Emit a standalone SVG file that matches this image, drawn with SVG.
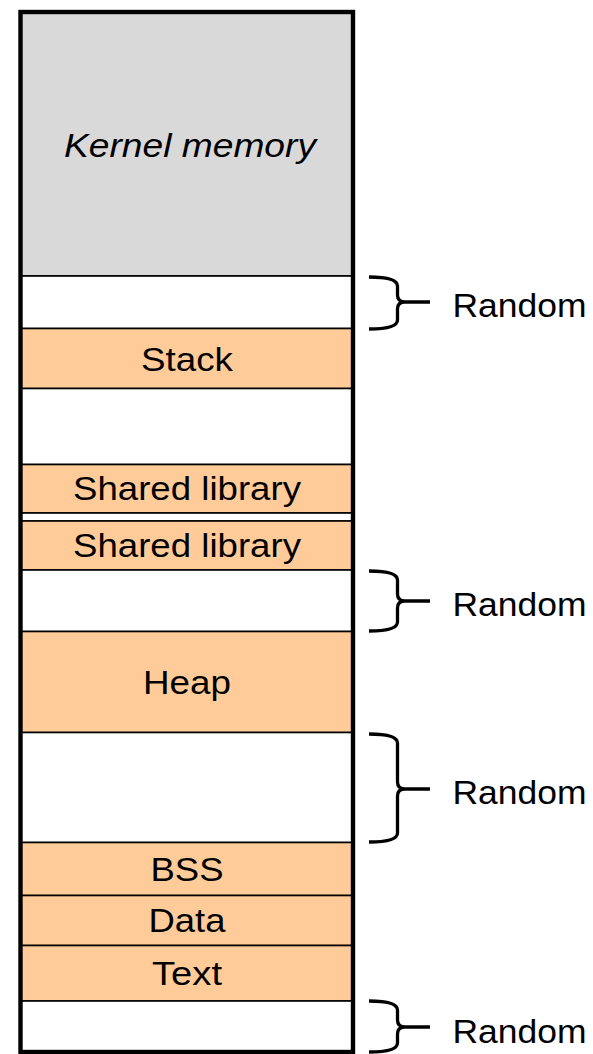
<svg xmlns="http://www.w3.org/2000/svg" width="593" height="1054" viewBox="0 0 593 1054">
<style>
.seg{stroke:#000;stroke-width:1.6}
.k{fill:#d9d9d9}
.o{fill:#ffcc99}
.w{fill:#ffffff}
.t{font-family:"Liberation Sans",Arial,sans-serif;font-size:33px;fill:#000;text-anchor:middle}
.r{font-family:"Liberation Sans",Arial,sans-serif;font-size:34px;fill:#000}
.br{fill:none;stroke:#000;stroke-width:3.3}
</style>
<rect width="593" height="1054" fill="#fff"/>
<g id="kernel"><rect class="seg k" x="21" y="12" width="331" height="264"/><text class="t" x="190" y="157" font-style="italic" textLength="252" lengthAdjust="spacingAndGlyphs">Kernel memory</text></g>
<g id="random1"><rect class="seg w" x="21" y="276" width="331" height="52.5"/></g>
<g id="stack"><rect class="seg o" x="21" y="328.5" width="331" height="60"/><text class="t" x="187" y="371" textLength="92" lengthAdjust="spacingAndGlyphs">Stack</text></g>
<g id="gap1"><rect class="seg w" x="21" y="388.5" width="331" height="76"/></g>
<g id="shlib1"><rect class="seg o" x="21" y="464.5" width="331" height="48.5"/><text class="t" x="187" y="500" textLength="228" lengthAdjust="spacingAndGlyphs">Shared library</text></g>
<g id="gap2"><rect class="seg w" x="21" y="513" width="331" height="8"/></g>
<g id="shlib2"><rect class="seg o" x="21" y="521" width="331" height="49"/><text class="t" x="187" y="557" textLength="228" lengthAdjust="spacingAndGlyphs">Shared library</text></g>
<g id="random2"><rect class="seg w" x="21" y="570" width="331" height="61.5"/></g>
<g id="heap"><rect class="seg o" x="21" y="631.5" width="331" height="101"/><text class="t" x="187" y="694" textLength="88" lengthAdjust="spacingAndGlyphs">Heap</text></g>
<g id="random3"><rect class="seg w" x="21" y="732.5" width="331" height="110"/></g>
<g id="bss"><rect class="seg o" x="21" y="842.5" width="331" height="53"/><text class="t" x="187" y="881" textLength="73" lengthAdjust="spacingAndGlyphs">BSS</text></g>
<g id="data"><rect class="seg o" x="21" y="895.5" width="331" height="50"/><text class="t" x="187" y="932" textLength="77" lengthAdjust="spacingAndGlyphs">Data</text></g>
<g id="text"><rect class="seg o" x="21" y="945.5" width="331" height="55.5"/><text class="t" x="187" y="985" textLength="70" lengthAdjust="spacingAndGlyphs">Text</text></g>
<g id="random4"><rect class="seg w" x="21" y="1001" width="331" height="51"/></g>
<g id="frame"><rect x="20.5" y="12" width="332.5" height="1040" fill="none" stroke="#000" stroke-width="4.4"/></g>
<g id="connectors">
<path class="br" d="M369,277 Q397.5,277 397.5,286 L397.5,295 Q397.5,302 405,302 Q397.5,302 397.5,309 L397.5,320 Q397.5,329 369,329 M404,302 H430"/>
<path class="br" d="M369,571 Q397.5,571 397.5,580 L397.5,594 Q397.5,601 405,601 Q397.5,601 397.5,608 L397.5,622 Q397.5,631 369,631 M404,601 H430"/>
<path class="br" d="M369,734 Q397.5,734 397.5,743 L397.5,782 Q397.5,789 405,789 Q397.5,789 397.5,796 L397.5,833 Q397.5,842 369,842 M404,789 H430"/>
<path class="br" d="M369,1001 Q397.5,1001 397.5,1010 L397.5,1020 Q397.5,1027 405,1027 Q397.5,1027 397.5,1034 L397.5,1043 Q397.5,1052 369,1052 M404,1027 H430"/>
</g>
<g id="labels">
<text class="r" x="452.5" y="317" textLength="134" lengthAdjust="spacingAndGlyphs">Random</text>
<text class="r" x="452.5" y="616" textLength="134" lengthAdjust="spacingAndGlyphs">Random</text>
<text class="r" x="452.5" y="804" textLength="134" lengthAdjust="spacingAndGlyphs">Random</text>
<text class="r" x="452.5" y="1043" textLength="134" lengthAdjust="spacingAndGlyphs">Random</text>
</g>
</svg>
